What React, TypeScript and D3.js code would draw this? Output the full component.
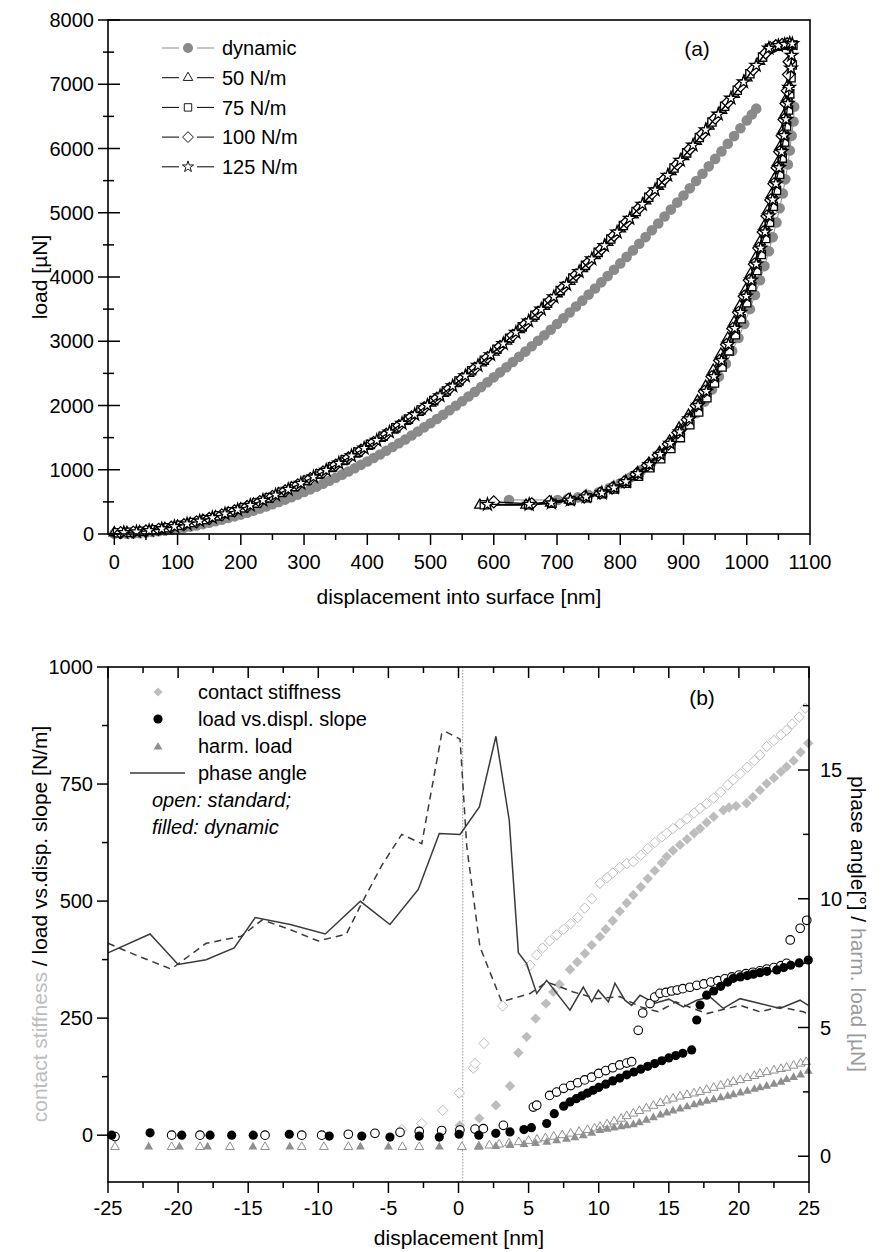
import React from 'react';
import * as d3 from 'd3';

const FONT = "'Liberation Sans', Arial, Helvetica, sans-serif";

// ---------- Panel (a): load vs displacement ----------
const dynLoading: [number, number][] = [
  [0, 5], [10, 3], [20, 4], [30, 9], [40, 14], [50, 22], [60, 31], [70, 42], [80, 53], [90, 67], [100, 81],
  [110, 98], [120, 115], [130, 134], [140, 154], [150, 176], [160, 198], [170, 223], [180, 248], [190, 275],
  [200, 302], [210, 332], [220, 363], [230, 395], [240, 428], [250, 463], [260, 498], [270, 535], [280, 573],
  [290, 613], [300, 653], [310, 695], [320, 738], [330, 783], [340, 829], [350, 876], [360, 924], [370, 973],
  [380, 1023], [390, 1076], [400, 1129], [410, 1183], [420, 1238], [430, 1295], [440, 1353], [450, 1412],
  [460, 1471], [470, 1533], [480, 1596], [490, 1660], [500, 1724], [510, 1790], [520, 1857], [530, 1926],
  [540, 1996], [550, 2067], [560, 2139], [570, 2212], [580, 2286], [590, 2362], [600, 2438], [610, 2516],
  [620, 2595], [630, 2676], [640, 2757], [650, 2839], [660, 2922], [670, 3007], [680, 3093], [690, 3180],
  [700, 3268], [710, 3358], [720, 3448], [730, 3540], [740, 3632], [750, 3726], [760, 3820], [770, 3917],
  [780, 4014], [790, 4113], [800, 4212], [810, 4313], [820, 4414], [830, 4517], [840, 4621], [850, 4727],
  [860, 4833], [870, 4941], [880, 5049], [890, 5158], [900, 5268], [910, 5380], [920, 5493], [930, 5607],
  [940, 5722], [950, 5838], [960, 5955], [970, 6074], [980, 6193], [990, 6315], [1000, 6437], [1008, 6530], [1015, 6620],
];
const dynUnloading: [number, number][] = [
  [1075, 6650], [1074, 6420], [1071, 6200], [1068, 5970], [1065, 5750], [1061, 5520], [1057, 5300], [1052, 5070],
  [1047, 4850], [1041, 4620], [1035, 4400], [1028, 4170], [1021, 3950], [1013, 3720], [1005, 3500], [996, 3270],
  [987, 3050], [977, 2850], [967, 2650], [956, 2450], [945, 2250], [933, 2060], [920, 1880], [907, 1710],
  [893, 1540], [879, 1390], [864, 1240], [849, 1110], [833, 990], [817, 885], [800, 790], [783, 715], [766, 650],
  [750, 605], [733, 570], [717, 548], [701, 530], [624, 530],
];
const s50: [number, number][] = [
  [0, 20], [20, 24], [40, 37], [60, 59], [80, 89], [100, 125], [120, 166], [140, 214], [160, 269], [180, 329],
  [200, 394], [220, 465], [240, 544], [260, 628], [280, 717], [300, 813], [320, 913], [340, 1018], [360, 1129],
  [380, 1244], [400, 1364], [420, 1489], [440, 1619], [460, 1754], [480, 1893], [500, 2039], [520, 2188],
  [540, 2342], [560, 2500], [580, 2663], [600, 2832], [620, 3004], [640, 3180], [660, 3360], [680, 3545],
  [700, 3740], [720, 3934], [740, 4133], [760, 4332], [780, 4539], [800, 4750], [820, 4966], [840, 5186],
  [860, 5411], [880, 5640], [900, 5873], [920, 6110], [940, 6350], [960, 6595], [980, 6845], [1000, 7099],
  [1020, 7357], [1035, 7550], [1045, 7580], [1055, 7600], [1065, 7610],
  [1070, 7600], [1069, 7400], [1068, 7200], [1066, 7000], [1064, 6800], [1061, 6550], [1058, 6300], [1054, 6050],
  [1050, 5800], [1045, 5550], [1040, 5300], [1034, 5050], [1028, 4800], [1021, 4550], [1014, 4300], [1006, 4050],
  [998, 3800], [989, 3550], [980, 3300], [970, 3050], [959, 2800], [947, 2550], [935, 2300], [922, 2070],
  [908, 1850], [893, 1650], [878, 1450], [862, 1270], [845, 1100], [827, 950], [808, 820], [789, 720], [770, 640],
  [745, 580], [720, 530], [690, 480], [651, 450], [578, 450],
];
const s75: [number, number][] = [
  [5, 20], [25, 26], [45, 42], [65, 66], [85, 98], [105, 135], [125, 178], [145, 227], [165, 283], [185, 345],
  [205, 410], [225, 484], [245, 564], [265, 650], [285, 740], [305, 837], [325, 939], [345, 1045], [365, 1157],
  [385, 1274], [405, 1395], [425, 1521], [445, 1652], [465, 1788], [485, 1929], [505, 2076], [525, 2226],
  [545, 2381], [565, 2540], [585, 2704], [605, 2875], [625, 3048], [645, 3224], [665, 3406], [685, 3592],
  [705, 3788], [725, 3984], [745, 4181], [765, 4383], [785, 4592], [805, 4803], [825, 5020], [845, 5242],
  [865, 5467], [885, 5698], [905, 5932], [925, 6170], [945, 6411], [965, 6657], [985, 6908], [1005, 7163],
  [1025, 7422], [1036, 7560], [1048, 7590], [1058, 7610], [1066, 7620],
  [1073, 7610], [1072, 7300], [1070, 7100], [1068, 6850], [1066, 6600], [1063, 6350], [1060, 6100], [1056, 5850],
  [1052, 5600], [1047, 5350], [1042, 5100], [1036, 4850], [1030, 4600], [1023, 4350], [1016, 4100], [1008, 3850],
  [1000, 3600], [991, 3350], [982, 3100], [972, 2850], [961, 2600], [949, 2350], [937, 2120], [924, 1900],
  [910, 1700], [895, 1500], [880, 1330], [864, 1170], [847, 1030], [829, 900], [810, 790], [791, 700], [772, 625],
  [748, 565], [722, 520], [692, 478], [655, 455], [585, 455],
];
const s100: [number, number][] = [
  [10, 21], [30, 29], [50, 47], [70, 73], [90, 106], [110, 145], [130, 189], [150, 241], [170, 298], [190, 361],
  [210, 428], [230, 504], [250, 585], [270, 672], [290, 764], [310, 862], [330, 965], [350, 1073], [370, 1186],
  [390, 1304], [410, 1426], [430, 1553], [450, 1686], [470, 1823], [490, 1965], [510, 2113], [530, 2264],
  [550, 2420], [570, 2581], [590, 2746], [610, 2918], [630, 3092], [650, 3269], [670, 3452], [690, 3640],
  [710, 3837], [730, 4034], [750, 4230], [770, 4435], [790, 4645], [810, 4857], [830, 5075], [850, 5298],
  [870, 5524], [890, 5756], [910, 5991], [930, 6230], [950, 6472], [970, 6719], [990, 6971], [1010, 7227],
  [1030, 7487], [1037, 7570], [1046, 7600], [1056, 7620], [1064, 7630],
  [1068, 7620], [1067, 7350], [1066, 7150], [1064, 6900], [1062, 6700], [1059, 6450], [1056, 6200], [1052, 5950],
  [1048, 5700], [1043, 5450], [1038, 5200], [1032, 4950], [1026, 4700], [1019, 4450], [1012, 4200], [1004, 3950],
  [996, 3700], [987, 3450], [978, 3200], [968, 2950], [957, 2700], [945, 2450], [933, 2220], [920, 2000],
  [906, 1780], [891, 1580], [876, 1400], [860, 1230], [843, 1070], [825, 930], [806, 810], [787, 715], [768, 635],
  [743, 575], [718, 540], [688, 505], [660, 470], [600, 500],
];
const s125: [number, number][] = [
  [15, 22], [35, 33], [55, 53], [75, 81], [95, 116], [115, 156], [135, 202], [155, 255], [175, 314], [195, 377],
  [215, 446], [235, 524], [255, 606], [275, 694], [295, 788], [315, 887], [335, 991], [355, 1101], [375, 1215],
  [395, 1334], [415, 1457], [435, 1586], [455, 1720], [475, 1858], [495, 2002], [515, 2150], [535, 2303],
  [555, 2460], [575, 2622], [595, 2789], [615, 2961], [635, 3136], [655, 3314], [675, 3498], [695, 3690],
  [715, 3885], [735, 4083], [755, 4281], [775, 4487], [795, 4697], [815, 4911], [835, 5130], [855, 5354],
  [875, 5582], [895, 5814], [915, 6050], [935, 6290], [955, 6533], [975, 6782], [995, 7035], [1015, 7292],
  [1035, 7560], [1050, 7600], [1060, 7620], [1068, 7640],
  [1072, 7630], [1071, 7450], [1070, 7250], [1067, 6950], [1065, 6700], [1062, 6450], [1059, 6200], [1055, 5950],
  [1051, 5700], [1046, 5450], [1041, 5200], [1035, 4950], [1029, 4700], [1022, 4450], [1015, 4200], [1007, 3950],
  [999, 3700], [990, 3450], [981, 3200], [971, 2950], [960, 2700], [948, 2450], [936, 2220], [923, 2000],
  [909, 1790], [894, 1590], [879, 1410], [863, 1240], [846, 1080], [828, 940], [809, 815], [790, 718], [771, 638],
  [746, 578], [721, 528], [691, 482], [656, 460], [590, 460],
];
const legendA = ['dynamic', '50 N/m', '75 N/m', '100 N/m', '125 N/m'];
const xTicksA = [0, 100, 200, 300, 400, 500, 600, 700, 800, 900, 1000, 1100];
const yTicksA = [0, 1000, 2000, 3000, 4000, 5000, 6000, 7000, 8000];

// ---------- Panel (b) ----------
const stiffOpen: [number, number][] = [
  [-4.05, 12], [-2.62, 25], [-1.13, 53], [0.06, 90], [1.06, 143], [1.18, 153], [1.82, 196], [3.15, 276],
  [5.1, 363], [5.58, 385], [6.0, 400], [6.5, 415], [7.0, 428], [7.5, 440], [8.0, 452], [8.5, 465], [9.0, 485],
  [9.5, 505], [10.09, 538], [10.6, 550], [11.0, 560], [11.5, 572], [12.0, 580], [12.47, 584], [13.0, 598],
  [13.5, 612], [14.0, 625], [14.5, 637], [14.85, 645], [15.3, 655], [15.8, 665], [16.3, 676], [16.8, 688],
  [17.23, 698], [17.7, 708], [18.2, 720], [18.7, 733], [19.2, 748], [19.6, 759], [20.1, 772], [20.6, 786],
  [21.1, 800], [21.5, 812], [21.98, 830], [22.5, 843], [23.0, 855], [23.4, 865], [23.8, 878], [24.3, 893], [24.73, 912],
];
const stiffFilled: [number, number][] = [
  [0.1, 21], [1.48, 36], [2.67, 64], [3.67, 105], [4.27, 176], [4.86, 210], [5.5, 249], [6.24, 281], [6.76, 306],
  [7.2, 322], [7.95, 354], [8.47, 370], [9.02, 388], [9.5, 406], [10.09, 424], [10.5, 440], [11.0, 458], [11.5, 478],
  [12.0, 496], [12.47, 513], [13.0, 530], [13.5, 548], [14.0, 565], [14.5, 582], [14.85, 595], [15.3, 608],
  [15.8, 620], [16.3, 632], [16.8, 645], [17.23, 655], [17.7, 668], [18.2, 680], [18.89, 694], [19.3, 700],
  [19.8, 703], [20.55, 709], [21.0, 722], [21.5, 737], [21.98, 751], [22.5, 763], [23.0, 776], [23.4, 787],
  [23.9, 800], [24.4, 818], [24.95, 837],
];
const slopeOpen: [number, number][] = [
  [-24.5, -3], [-20.46, 0], [-18.44, 0], [-13.8, 0], [-11.18, 0], [-9.76, 0], [-7.86, 2], [-5.96, 4], [-4.17, 6],
  [-2.8, 8], [-1.2, 10], [0.1, 11], [1.18, 13], [1.77, 14], [3.2, 21], [5.34, 60], [5.58, 64],
  [6.5, 85], [7.0, 92], [7.5, 100], [8.0, 106], [8.5, 112], [9.0, 118], [9.5, 124], [10.0, 132], [10.5, 138],
  [11.0, 144], [11.5, 150], [12.0, 154], [12.35, 157], [12.82, 224], [13.14, 261], [13.66, 281],
  [14.0, 295], [14.37, 303], [14.8, 305], [15.2, 308], [15.6, 310], [16.0, 313], [16.5, 316], [17.0, 320],
  [17.5, 323], [18.0, 327], [18.5, 330], [19.0, 334], [19.5, 338], [20.0, 342], [20.5, 345], [21.0, 348],
  [21.5, 351], [22.0, 355], [22.5, 358], [23.0, 362], [23.4, 367], [23.66, 417], [24.37, 442], [24.84, 459],
];
const slopeFilled: [number, number][] = [
  [-24.74, 0], [-22.0, 5], [-19.74, 0], [-17.72, 0], [-16.18, 0], [-14.64, 0], [-12.07, 2], [-9.22, -2], [-6.9, -2],
  [-4.89, -4], [-2.8, -2], [-1.37, -4], [0.04, 2], [1.45, 0], [2.66, 4], [3.67, 7], [4.67, 12], [5.2, 16],
  [6.29, 25], [6.83, 46], [7.5, 62], [7.95, 71], [8.4, 78], [8.8, 84], [9.2, 90], [9.6, 96], [10.0, 102],
  [10.5, 109], [11.0, 116], [11.5, 122], [12.0, 129], [12.5, 135], [13.0, 141], [13.5, 147], [14.0, 153],
  [14.5, 159], [15.0, 165], [15.5, 170], [16.0, 175], [16.63, 182], [16.99, 246], [17.23, 278],
  [17.7, 299], [18.2, 308], [18.7, 318], [19.2, 327], [19.6, 335], [20.1, 338], [20.6, 341], [21.03, 344],
  [21.5, 347], [22.0, 350], [22.7, 353], [23.2, 358], [23.7, 363], [24.3, 368], [24.95, 374],
];
const harmOpen: [number, number][] = [
  [-24.5, 0.36], [-20.46, 0.36], [-18.44, 0.36], [-16.3, 0.36], [-13.8, 0.36], [-11.18, 0.36], [-9.6, 0.36],
  [-7.86, 0.36], [-4.0, 0.36], [-2.8, 0.36], [0.24, 0.36], [1.45, 0.38], [2.2, 0.42], [2.9, 0.46], [3.6, 0.5],
  [4.3, 0.55], [5.0, 0.6], [5.6, 0.65], [6.2, 0.7], [6.8, 0.76], [7.4, 0.82], [8.0, 0.88], [8.6, 0.95],
  [9.2, 1.02], [9.7, 1.08], [10.1, 1.14], [10.6, 1.24], [11.1, 1.35], [11.6, 1.46], [12.0, 1.56], [12.47, 1.66],
  [12.9, 1.76], [13.4, 1.86], [13.9, 1.96], [14.4, 2.07], [14.85, 2.17], [15.3, 2.24], [15.8, 2.32], [16.3, 2.38],
  [16.8, 2.44], [17.23, 2.5], [17.7, 2.58], [18.2, 2.66], [18.7, 2.74], [19.2, 2.82], [19.6, 2.89], [20.1, 2.96],
  [20.6, 3.04], [21.1, 3.12], [21.5, 3.2], [21.98, 3.27], [22.5, 3.33], [23.0, 3.39], [23.4, 3.44], [23.9, 3.52],
  [24.4, 3.6], [24.8, 3.66],
];
const harmFilled: [number, number][] = [
  [-22.1, 0.36], [-19.9, 0.36], [-17.9, 0.36], [-14.66, 0.36], [-12.03, 0.36], [-7.0, 0.36], [-5.0, 0.36],
  [-1.37, 0.36], [1.45, 0.36], [2.66, 0.38], [3.67, 0.42], [4.67, 0.46], [5.5, 0.5], [6.3, 0.55], [7.0, 0.6],
  [7.7, 0.66], [8.3, 0.72], [8.9, 0.8], [9.5, 0.9], [10.09, 1.0], [10.6, 1.05], [11.1, 1.1], [11.6, 1.15],
  [12.0, 1.19], [12.47, 1.23], [12.9, 1.3], [13.4, 1.4], [13.9, 1.5], [14.4, 1.6], [14.85, 1.68], [15.3, 1.76],
  [15.8, 1.84], [16.3, 1.92], [16.8, 2.0], [17.23, 2.07], [17.7, 2.14], [18.2, 2.2], [18.7, 2.27], [19.2, 2.33],
  [19.6, 2.39], [20.1, 2.46], [20.6, 2.53], [21.1, 2.6], [21.5, 2.66], [21.98, 2.72], [22.5, 2.8], [23.0, 2.88],
  [23.4, 2.98], [23.9, 3.06], [24.4, 3.16], [24.95, 3.3],
];
const phaseSolid: [number, number][] = [
  [-25, 7.9], [-22, 8.63], [-20, 7.45], [-18, 7.63], [-16, 8.09], [-14.5, 9.27], [-12, 9.0], [-9.5, 8.63],
  [-7, 9.9], [-4.89, 9.0], [-2.87, 10.36], [-1.37, 12.53], [0.11, 12.5], [1.49, 13.57], [2.67, 16.31],
  [3.62, 13.05], [4.27, 7.9], [4.86, 7.48], [5.58, 6.32], [6.29, 6.83], [7.95, 5.67], [8.9, 6.57], [9.5, 6.0],
  [9.97, 6.45], [10.69, 6.0], [11.16, 6.72], [11.87, 6.06], [12.35, 5.86], [12.95, 6.25], [14.02, 5.94],
  [15.0, 6.1], [16.04, 5.8], [16.99, 6.06], [17.94, 6.19], [18.89, 5.74], [20.08, 6.12], [21.5, 5.93],
  [22.93, 5.74], [24.36, 6.06], [24.95, 5.86],
];
const phaseDashed: [number, number][] = [
  [-25, 8.27], [-23, 7.81], [-20.5, 7.27], [-18, 8.27], [-15.5, 8.54], [-14, 9.18], [-12, 8.8], [-10, 8.36],
  [-8, 8.63], [-7, 9.72], [-5.5, 11.27], [-4.05, 12.5], [-2.62, 12.14], [-1.2, 16.4], [-0.96, 16.5], [0.11, 16.2],
  [0.59, 12.03], [1.53, 8.13], [3.08, 6.0], [5.1, 6.32], [6.29, 6.77], [8.19, 6.38], [9.85, 6.12], [11.5, 6.2],
  [13.0, 5.8], [14.25, 5.61], [15.5, 6.0], [17.7, 5.54], [20.08, 5.86], [21.5, 5.61], [22.9, 5.8], [24.6, 5.61],
  [25, 5.5],
];
const legendB = ['contact stiffness', 'load vs.displ. slope', 'harm. load', 'phase angle'];
const xTicksB = [-25, -20, -15, -10, -5, 0, 5, 10, 15, 20, 25];
const yTicksBL = [0, 250, 500, 750, 1000];
const yTicksBR = [0, 5, 10, 15];
const contactX = 0.3;

const C_DYN = '#8a8a8a';
const C_STIFF = '#bdbdbd';
const C_HARM = '#8f8f8f';
const C_PHASE = '#3a3a3a';

const diamond = (r: number) => `M0,${-r}L${r},0L0,${r}L${-r},0Z`;
const sym = (t: d3.SymbolType, s: number) => d3.symbol().type(t).size(s)() as string;

export default function App() {
  const xA = d3.scaleLinear().domain([-10, 1100]).range([108, 810]);
  const yA = d3.scaleLinear().domain([0, 8000]).range([534, 20]);
  const xB = d3.scaleLinear().domain([-25, 25]).range([108, 809]);
  const yL = d3.scaleLinear().domain([-100, 1000]).range([1182, 667]);
  const yR = d3.scaleLinear().domain([-1, 19]).range([1182, 667]);

  const lineA = d3.line<[number, number]>().x(d => xA(d[0])).y(d => yA(d[1]));
  const lineR = d3.line<[number, number]>().x(d => xB(d[0])).y(d => yR(d[1]));

  const tri = sym(d3.symbolTriangle, 48);
  const sq = sym(d3.symbolSquare, 68);
  const star = sym(d3.symbolStar, 48);
  const dia = diamond(6);
  const triB = sym(d3.symbolTriangle, 34);
  const diaB = diamond(5.2);

  const stdSeries = [
    { data: s50, path: tri },
    { data: s75, path: sq },
    { data: s100, path: dia },
    { data: s125, path: star },
  ];

  const minorA = d3.range(50, 1100, 100);
  const minorYA = d3.range(500, 8000, 1000);
  const minorB = d3.range(-22.5, 25, 5);
  const minorBL = [125, 375, 625, 875];
  const minorBR = [2.5, 7.5, 12.5, 17.5];

  return (
    <svg width={885} height={1252} style={{ position: 'absolute', left: 0, top: 0, background: '#fff' }}
      fontFamily={FONT}>
      <rect x={0} y={0} width={885} height={1252} fill="#fff" />
      {/* ================= Panel (a) ================= */}
      <g>
        <path d={lineA(dynLoading) || ''} fill="none" stroke={C_DYN} strokeWidth={1} />
        <path d={lineA(dynUnloading) || ''} fill="none" stroke={C_DYN} strokeWidth={1} />
        {[...dynLoading, ...dynUnloading].map((d, i) => (
          <circle key={'dl' + i} cx={xA(d[0])} cy={yA(d[1])} r={5.3} fill={C_DYN} />
        ))}
        {stdSeries.map((s, k) => (
          <g key={'s' + k}>
            <path d={lineA(s.data) || ''} fill="none" stroke="#000" strokeWidth={1.2} />
            {s.data.map((d, i) => (
              <path key={i} d={s.path} transform={`translate(${xA(d[0])},${yA(d[1])})`}
                fill="#fff" stroke="#000" strokeWidth={1.3} />
            ))}
          </g>
        ))}
        <rect x={108} y={20} width={702} height={514} fill="none" stroke="#000" strokeWidth={1.6} />
        {xTicksA.map(t => (
          <g key={'xa' + t}>
            <line x1={xA(t)} x2={xA(t)} y1={534} y2={545} stroke="#000" strokeWidth={1.5} />
            <text x={xA(t)} y={569} fontSize={20} textAnchor="middle">{t}</text>
          </g>
        ))}
        {minorA.map(t => (
          <line key={'xam' + t} x1={xA(t)} x2={xA(t)} y1={534} y2={540} stroke="#000" strokeWidth={1.5} />
        ))}
        {yTicksA.map(t => (
          <g key={'ya' + t}>
            <line x1={98} x2={120} y1={yA(t)} y2={yA(t)} stroke="#000" strokeWidth={1.5} />
            <text x={94} y={yA(t)} dy="0.36em" fontSize={20} textAnchor="end">{t}</text>
          </g>
        ))}
        {minorYA.map(t => (
          <line key={'yam' + t} x1={103} x2={114} y1={yA(t)} y2={yA(t)} stroke="#000" strokeWidth={1.5} />
        ))}
        <text x={459} y={604} fontSize={21} textAnchor="middle">displacement into surface [nm]</text>
        <text transform="translate(47,277) rotate(-90)" fontSize={21} textAnchor="middle">load [µN]</text>
        <text x={697} y={56} fontSize={21} textAnchor="middle">(a)</text>
        {legendA.map((name, i) => {
          const y = 48 + i * 29.7;
          const p = [null, tri, sq, dia, star][i];
          const col = i === 0 ? C_DYN : '#000';
          return (
            <g key={'la' + i}>
              <line x1={162} x2={179} y1={y} y2={y} stroke={col} strokeWidth={1} />
              <line x1={197} x2={214} y1={y} y2={y} stroke={col} strokeWidth={1} />
              {i === 0 ? (
                <circle cx={188} cy={y} r={5} fill={C_DYN} />
              ) : (
                <path d={p as string} transform={`translate(188,${y}) scale(0.9)`} fill="#fff" stroke="#000" strokeWidth={1} />
              )}
              <text x={222} y={y} dy="0.36em" fontSize={20}>{name}</text>
            </g>
          );
        })}
      </g>

      {/* ================= Panel (b) ================= */}
      <g>
        <line x1={xB(contactX)} x2={xB(contactX)} y1={667} y2={1182} stroke="#999" strokeWidth={1}
          strokeDasharray="1.5,1.5" />
        {stiffOpen.map((d, i) => (
          <path key={'so' + i} d={diaB} transform={`translate(${xB(d[0])},${yL(d[1])})`} fill="#fff"
            stroke={C_STIFF} strokeWidth={1} />
        ))}
        {stiffFilled.map((d, i) => (
          <path key={'sf' + i} d={diaB} transform={`translate(${xB(d[0])},${yL(d[1])})`} fill={C_STIFF} />
        ))}
        <path d={lineR(phaseSolid) || ''} fill="none" stroke={C_PHASE} strokeWidth={1.5} />
        <path d={lineR(phaseDashed) || ''} fill="none" stroke={C_PHASE} strokeWidth={1.5} strokeDasharray="7,5" />
        {harmOpen.map((d, i) => (
          <path key={'ho' + i} d={triB} transform={`translate(${xB(d[0])},${yR(d[1])})`} fill="#fff"
            stroke={C_HARM} strokeWidth={1} />
        ))}
        {harmFilled.map((d, i) => (
          <path key={'hf' + i} d={triB} transform={`translate(${xB(d[0])},${yR(d[1])})`} fill={C_HARM} />
        ))}
        {slopeOpen.map((d, i) => (
          <circle key={'co' + i} cx={xB(d[0])} cy={yL(d[1])} r={4.3} fill="#fff" stroke="#000" strokeWidth={1.1} />
        ))}
        {slopeFilled.map((d, i) => (
          <circle key={'cf' + i} cx={xB(d[0])} cy={yL(d[1])} r={4.6} fill="#000" />
        ))}
        <rect x={108} y={667} width={701} height={515} fill="none" stroke="#000" strokeWidth={1.6} />
        {xTicksB.map(t => (
          <g key={'xb' + t}>
            <line x1={xB(t)} x2={xB(t)} y1={1182} y2={1193} stroke="#000" strokeWidth={1.5} />
            <line x1={xB(t)} x2={xB(t)} y1={667} y2={678} stroke="#000" strokeWidth={1.5} />
            <text x={xB(t)} y={1215} fontSize={20} textAnchor="middle">{t}</text>
          </g>
        ))}
        {minorB.map(t => (
          <g key={'xbm' + t}>
            <line x1={xB(t)} x2={xB(t)} y1={1182} y2={1188} stroke="#000" strokeWidth={1.5} />
            <line x1={xB(t)} x2={xB(t)} y1={667} y2={673} stroke="#000" strokeWidth={1.5} />
          </g>
        ))}
        {yTicksBL.map(t => (
          <g key={'ybl' + t}>
            <line x1={97} x2={108} y1={yL(t)} y2={yL(t)} stroke="#000" strokeWidth={1.5} />
            <text x={93} y={yL(t)} dy="0.36em" fontSize={20} textAnchor="end">{t}</text>
          </g>
        ))}
        {minorBL.map(t => (
          <line key={'yblm' + t} x1={102} x2={108} y1={yL(t)} y2={yL(t)} stroke="#000" strokeWidth={1.5} />
        ))}
        {yTicksBR.map(t => (
          <g key={'ybr' + t}>
            <line x1={798} x2={809} y1={yR(t)} y2={yR(t)} stroke="#000" strokeWidth={1.5} />
            <text x={820} y={yR(t)} dy="0.36em" fontSize={20}>{t}</text>
          </g>
        ))}
        {minorBR.map(t => (
          <line key={'ybrm' + t} x1={803} x2={809} y1={yR(t)} y2={yR(t)} stroke="#000" strokeWidth={1.5} />
        ))}
        <text x={459} y={1245} fontSize={21} textAnchor="middle">displacement [nm]</text>
        <text transform="translate(47,924) rotate(-90)" fontSize={21} textAnchor="middle">
          <tspan fill={C_STIFF}>contact stiffness</tspan>
          <tspan fill="#000"> / load vs.disp. slope [N/m]</tspan>
        </text>
        <text transform="translate(851,924) rotate(90)" fontSize={21} textAnchor="middle">
          <tspan fill="#000">phase angle[°] / </tspan>
          <tspan fill="#9a9a9a">harm. load [µN]</tspan>
        </text>
        <text x={702} y={705} fontSize={21} textAnchor="middle">(b)</text>
        <path d={diamond(4.5)} transform="translate(158,692)" fill={C_STIFF} />
        <circle cx={158} cy={719} r={4.6} fill="#000" />
        <path d={sym(d3.symbolTriangle, 34)} transform="translate(158,747)" fill={C_HARM} />
        <line x1={130} x2={185} y1={773} y2={773} stroke={C_PHASE} strokeWidth={1.5} />
        {legendB.map((name, i) => (
          <text key={'lb' + i} x={198} y={692 + i * 27} dy="0.36em" fontSize={20}>{name}</text>
        ))}
        <text x={152} y={800} dy="0.36em" fontSize={20} fontStyle="italic">open: standard;</text>
        <text x={152} y={827} dy="0.36em" fontSize={20} fontStyle="italic">filled: dynamic</text>
      </g>
    </svg>
  );
}
